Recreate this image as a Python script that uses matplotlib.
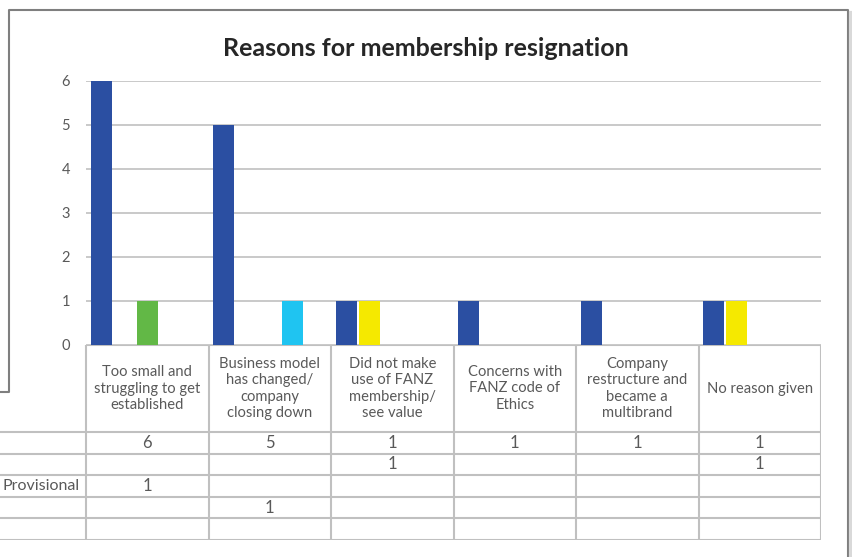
import matplotlib
matplotlib.use('Agg')
from matplotlib import pyplot as plt
from matplotlib.lines import Line2D

plt.rcParams['font.family'] = ['Lato', 'DejaVu Sans']

categories = ['Too small and\nstruggling to get\nestablished',
              'Business model\nhas changed/\ncompany\nclosing down',
              'Did not make\nuse of FANZ\nmembership/\nsee value',
              'Concerns with\nFANZ code of\nEthics',
              'Company\nrestructure and\nbecame a\nmultibrand',
              'No reason given']

# series rows of the data table (None = empty cell)
series_names = ['', '', 'Provisional', '', '']
series_values = [
    [6, 5, 1, 1, 1, 1],
    [None, None, 1, None, None, 1],
    [1, None, None, None, None, None],
    [None, 1, None, None, None, None],
    [None, None, None, None, None, None],
]
series_colors = ['#2B4FA2', '#F5E900', '#62B846', '#1FC4F1', '#A5A5A5']

y_ticks = [0, 1, 2, 3, 4, 5, 6]
title = 'Reasons for membership resignation'

W, H = 852, 557
fig = plt.figure(figsize=(W / 100, H / 100), dpi=100)


def box(x0, y0, x1, y1):
    # pixel box (top-left origin) -> figure fraction rect
    return [x0 / W, 1 - y1 / H, (x1 - x0) / W, (y1 - y0) / H]


grid_color = '#C0C0C0'
text_color = '#595959'

# ---- bar area ----
ax = fig.add_axes(box(86, 81, 821, 345))
n_cat = len(categories)
n_ser = len(series_values)
slot = 23 / 122.5
bar_w = 21 / 122.5
for j, vals in enumerate(series_values):
    xs, hs = [], []
    for i, v in enumerate(vals):
        if v is not None:
            xs.append(i + 0.5 + (j - (n_ser - 1) / 2) * slot)
            hs.append(v)
    if xs:
        ax.bar(xs, hs, width=bar_w, color=series_colors[j], zorder=3)

ax.set_xlim(0, n_cat)
ax.set_ylim(0, 6)
ax.set_yticks(y_ticks)
ax.set_xticks([])
ax.grid(axis='y', color=grid_color, linewidth=1.2, zorder=0)
ax.tick_params(axis='y', length=0, pad=11.5, labelsize=10.5, labelcolor=text_color)
for s in ax.spines.values():
    s.set_visible(False)

# ---- data table ----
tab = fig.add_axes(box(0, 345, 821, 540))
x_left = -86 / 122.5
tab.set_xlim(x_left, n_cat)
header_h = 87
row_h = (540 - 345 - header_h) / n_ser
total_h = header_h + row_h * n_ser
tab.set_ylim(total_h, 0)
tab.axis('off')

tab.plot([0, n_cat], [0, 0], color=grid_color, lw=1.5)
for r in range(n_ser + 1):
    y = header_h + r * row_h
    tab.plot([x_left, n_cat], [y, y], color=grid_color, lw=1.5)
for i in range(n_cat + 1):
    tab.plot([i, i], [0, total_h], color=grid_color, lw=1.5)

for i, c in enumerate(categories):
    tab.text(i + 0.5, header_h / 2, c, ha='center', va='center', fontsize=10.6,
             color=text_color, linespacing=1.22)

for r, (name, vals) in enumerate(zip(series_names, series_values)):
    yc = header_h + (r + 0.5) * row_h
    if name:
        tab.text(x_left + 3 / 122.5, yc, name, ha='left', va='center',
                 fontsize=11.5, color=text_color)
    for i, v in enumerate(vals):
        if v is not None:
            tab.text(i + 0.5, yc, str(v), ha='center', va='center',
                     fontsize=12, color=text_color)

# ---- title and frame ----
fig.text(426 / W, 1 - 48 / H, title, ha='center', va='center',
         fontsize=18, fontweight='bold', color='#262626')

frame = '#7F7F7F'
fig.add_artist(Line2D([0, 9 / W, 9 / W, 848 / W, 848 / W],
                      [1 - 392 / H, 1 - 392 / H, 1 - 10 / H, 1 - 10 / H, 0],
                      color=frame, lw=1.5))
fig.add_artist(Line2D([850.5 / W, 850.5 / W], [1 - 13 / H, 0],
                      color='#D9D9D9', lw=3))

fig.savefig('out.png', dpi=100, facecolor='white')
